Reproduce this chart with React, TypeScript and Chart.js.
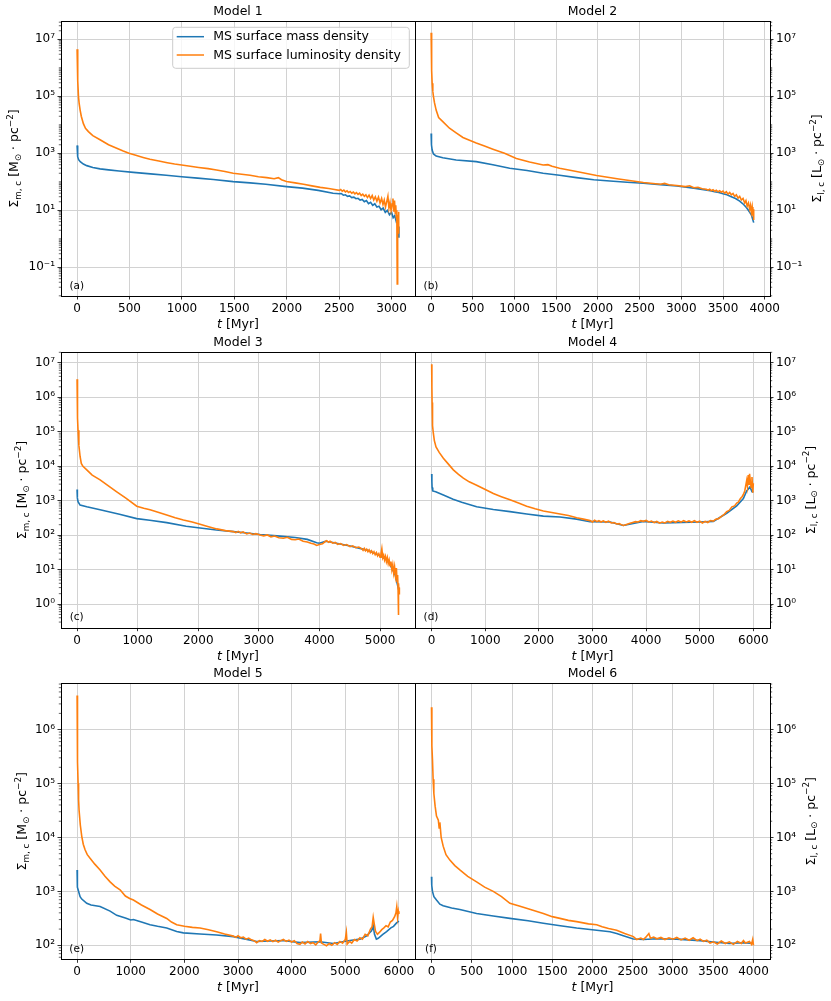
import React, { useEffect, useRef } from "react";
import { Chart, registerables } from "chart.js";

Chart.register(...registerables);

type Pt = [number, number];

const FONT = '"DejaVu Sans", sans-serif';
const BLUE = "#1f77b4";
const ORANGE = "#ff7f0e";

const SERIES_LABELS = ["MS surface mass density", "MS surface luminosity density"];
const MODEL_TITLES = ["Model 1", "Model 2", "Model 3", "Model 4", "Model 5", "Model 6"];
const PANEL_TAGS = ["(a)", "(b)", "(c)", "(d)", "(e)", "(f)"];

// [t in Myr, surface density]
const M1_MASS: Pt[] = [[0,1900],[3,1200],[8,760],[15,600],[30,510],[60,420],[92,370],[150,320],[219,285],[300,263],[400,240],[537,214],[700,190],[850,170],[997,151],[1150,135],[1300,120],[1489,102],[1650,92],[1800,82],[1997,68],[2150,60],[2300,50],[2442,40],[2500,38],[2520,39],[2540,34],[2560,35],[2580,31],[2600,32],[2620,28],[2640,29],[2660,25.5],[2680,26.5],[2700,23],[2720,24],[2740,20],[2760,22],[2780,17],[2800,19],[2820,15],[2840,17],[2860,13],[2880,14],[2900,10.5],[2920,12],[2940,8.5],[2960,10],[2980,7],[3000,8.5],[3015,5.5],[3030,6.5],[3045,4],[3055,4.5],[3062,2.7],[3070,1.1]];
const M1_LUM: Pt[] = [[0,4.5e6],[4,1.2e6],[8,3.5e5],[13,1.0e5],[20,5.5e4],[29,3.3e4],[40,2.0e4],[60,1.1e4],[80,7.5e3],[108,5.8e3],[150,4.2e3],[219,3.0e3],[300,2.0e3],[378,1.5e3],[440,1.2e3],[495,1.0e3],[560,850],[630,720],[695,620],[780,540],[860,470],[930,420],[997,390],[1080,350],[1160,320],[1250,290],[1330,260],[1410,230],[1489,200],[1570,185],[1650,170],[1730,150],[1810,140],[1880,128],[1920,140],[1950,118],[1997,102],[2080,92],[2160,82],[2240,72],[2320,64],[2400,58],[2442,55],[2500,50],[2515,54],[2530,47],[2545,51],[2560,44],[2575,48],[2590,42],[2605,46],[2620,40],[2635,44],[2650,38],[2665,42],[2680,36],[2695,40],[2710,33],[2725,37],[2740,31],[2755,35],[2770,28],[2785,34],[2800,26],[2815,33],[2830,23],[2845,30],[2860,21],[2875,29],[2890,18],[2905,26],[2918,16],[2930,23],[2942,13],[2955,21],[2965,31],[2975,12],[2985,19],[2995,10],[3005,17],[3013,26],[3020,9],[3028,22],[3035,8],[3040,15],[3045,5.5],[3050,10],[3054,0.026],[3058,7],[3062,4.5],[3066,9],[3070,1.5]];

const M2_MASS: Pt[] = [[0,5000],[4,2000],[12,1300],[28,950],[60,800],[140,700],[300,580],[541,510],[740,400],[942,300],[1150,250],[1343,200],[1540,170],[1743,140],[1950,118],[2144,107],[2350,97],[2545,89],[2750,80],[2946,71],[3150,60],[3347,49],[3400,45],[3450,42],[3500,38],[3547,35],[3600,30],[3650,26],[3700,21],[3747,16],[3780,12.5],[3800,10.5],[3820,8.5],[3840,7],[3855,5],[3868,3.7]];
const M2_LUM: Pt[] = [[0,1.7e7],[4,3e6],[8,8e5],[12,2.9e5],[20,1.5e5],[28,9.8e4],[40,6e4],[60,3.3e4],[90,1.8e4],[140,1.3e4],[220,7.6e3],[300,5.2e3],[381,3.6e3],[460,2.9e3],[541,2.3e3],[640,1.8e3],[741,1.4e3],[880,1.0e3],[1022,660],[1180,500],[1343,390],[1400,400],[1450,355],[1540,300],[1743,230],[1984,166],[2250,125],[2545,95],[2750,82],[2800,88],[2850,79],[2946,74],[3050,68],[3100,73],[3150,62],[3200,64],[3250,57],[3300,55],[3320,51],[3340,55],[3360,49],[3380,53],[3400,47],[3420,51],[3440,45],[3460,49],[3480,43],[3500,47],[3520,40],[3540,45],[3560,37],[3580,42],[3600,35],[3620,39],[3640,31],[3660,35],[3680,27],[3700,31],[3720,23],[3740,26],[3760,18],[3775,22],[3790,14],[3805,18],[3820,11],[3830,15],[3840,8.5],[3850,13],[3858,6.5],[3864,11],[3868,4.6]];

const M3_MASS: Pt[] = [[0,2100],[5,1200],[16,930],[50,740],[160,660],[380,540],[700,400],[985,300],[1200,270],[1480,230],[1800,180],[2030,160],[2300,140],[2580,126],[2800,115],[3020,104],[3300,95],[3600,85],[3800,75],[3955,60],[4000,58],[4100,66],[4200,62],[4505,48],[4800,36],[5000,25],[5100,20],[5165,14],[5220,9],[5250,7],[5270,5],[5290,3.5],[5310,2.5],[5319,3]];
const M3_LUM: Pt[] = [[0,3.3e6],[5,8e5],[10,2.5e5],[16,1.1e5],[30,4e4],[50,1.9e4],[70,1.2e4],[94,1.0e4],[160,7.8e3],[250,5.5e3],[380,4.0e3],[500,2.8e3],[655,1.8e3],[800,1.2e3],[985,690],[1100,600],[1205,540],[1350,450],[1480,380],[1620,320],[1755,275],[1900,240],[2030,205],[2170,175],[2305,151],[2450,135],[2580,126],[2620,118],[2660,128],[2700,116],[2740,124],[2800,108],[2850,115],[2900,104],[2950,110],[3020,100],[3080,95],[3140,101],[3200,89],[3260,94],[3330,84],[3405,81],[3470,86],[3540,75],[3600,73],[3660,77],[3730,66],[3800,63],[3860,58],[3910,55],[3955,50],[4000,53],[4050,56],[4090,64],[4120,69],[4150,62],[4175,66],[4220,58],[4260,61],[4300,54],[4350,57],[4400,50],[4450,53],[4505,46],[4550,49],[4600,43],[4650,45],[4700,40],[4720,36],[4740,41],[4760,35],[4780,39],[4800,33],[4820,37],[4840,31],[4860,35],[4880,29],[4900,33],[4920,27],[4940,31],[4960,25],[4980,29],[5000,23],[5015,28],[5030,40],[5045,22],[5060,26],[5075,19],[5090,24],[5105,17],[5120,22],[5135,15],[5150,19],[5165,13],[5180,17],[5195,10],[5210,14],[5225,8],[5240,12],[5255,6.5],[5270,11],[5280,4.5],[5290,7],[5298,2.5],[5302,0.48],[5308,4],[5314,2],[5319,3]];

const M4_MASS: Pt[] = [[0,5900],[4,3500],[8,2400],[20,1900],[75,1800],[218,1450],[400,1100],[560,900],[839,660],[1150,550],[1461,480],[1772,410],[2083,355],[2394,335],[2705,290],[2954,245],[3327,240],[3575,190],[3948,250],[4321,225],[5005,240],[5254,250],[5503,430],[5690,700],[5814,1150],[5876,1900],[5938,2500],[5975,1800],[6000,1800]];
const M4_LUM: Pt[] = [[0,9e6],[4,2e6],[8,7e5],[12,3.4e5],[20,1.5e5],[31,9e4],[50,5.5e4],[81,3.6e4],[140,2.5e4],[218,1.7e4],[300,1.2e4],[404,7.8e3],[500,5.8e3],[591,4.5e3],[700,3.5e3],[839,2.8e3],[1000,2.1e3],[1150,1.6e3],[1300,1.3e3],[1461,1.05e3],[1620,850],[1772,690],[1930,580],[2083,500],[2240,450],[2394,410],[2550,370],[2705,320],[2830,290],[2954,263],[3000,240],[3040,270],[3080,245],[3120,262],[3160,240],[3200,258],[3250,235],[3300,255],[3350,225],[3400,230],[3450,210],[3500,215],[3550,195],[3580,190],[3620,200],[3660,210],[3700,220],[3750,232],[3800,245],[3850,240],[3900,262],[3948,250],[4000,265],[4050,240],[4100,255],[4150,230],[4200,248],[4250,222],[4300,238],[4350,225],[4400,250],[4450,235],[4500,255],[4550,235],[4600,258],[4650,238],[4700,262],[4750,240],[4800,258],[4850,236],[4900,262],[4950,235],[5000,255],[5050,225],[5100,250],[5150,232],[5200,265],[5254,255],[5300,290],[5350,300],[5400,345],[5450,390],[5503,480],[5550,520],[5600,660],[5650,700],[5690,850],[5720,900],[5760,1150],[5790,1300],[5814,1500],[5840,1900],[5860,2800],[5876,3800],[5890,2600],[5905,5500],[5920,3000],[5930,6000],[5945,3500],[5960,2400],[5975,4800],[5990,1700],[6000,3200]];

const M5_MASS: Pt[] = [[0,2500],[3,1600],[8,1200],[19,1070],[56,800],[87,720],[180,600],[260,560],[429,525],[615,430],[739,360],[900,320],[1000,295],[1050,300],[1200,270],[1360,240],[1500,225],[1671,210],[1857,180],[1981,170],[2292,162],[2600,155],[2913,145],[3348,118],[3845,123],[4155,112],[4528,116],[4776,108],[5025,120],[5150,125],[5273,130],[5400,150],[5450,170],[5490,185],[5521,230],[5545,160],[5580,130],[5615,135],[5700,160],[5770,180],[5850,210],[5900,225],[5956,260],[6000,280]];
const M5_LUM: Pt[] = [[0,4.3e6],[3,1.5e6],[8,5e5],[12,2.5e5],[19,1.0e5],[28,5e4],[37,3.2e4],[60,1.7e4],[87,1.05e4],[115,7.5e3],[149,5.9e3],[190,4.8e3],[242,4.1e3],[330,3.2e3],[429,2.5e3],[520,1.9e3],[615,1.5e3],[700,1.25e3],[801,1.07e3],[900,820],[980,740],[1050,690],[1200,560],[1360,460],[1500,380],[1671,315],[1760,270],[1857,240],[2000,225],[2150,215],[2292,209],[2450,195],[2602,178],[2750,162],[2913,148],[2960,140],[3000,150],[3050,138],[3100,142],[3150,130],[3200,136],[3250,126],[3300,122],[3348,112],[3400,122],[3450,118],[3500,128],[3550,119],[3600,126],[3650,117],[3700,124],[3750,115],[3800,122],[3845,128],[3900,118],[3950,125],[4000,115],[4050,122],[4100,108],[4155,104],[4200,115],[4250,106],[4300,118],[4350,108],[4400,112],[4450,102],[4500,116],[4528,122],[4540,165],[4555,110],[4600,104],[4650,98],[4700,108],[4750,100],[4800,112],[4850,104],[4900,118],[4950,110],[5000,128],[5020,175],[5035,105],[5080,118],[5120,110],[5170,128],[5220,120],[5273,138],[5320,130],[5370,160],[5420,150],[5470,200],[5500,220],[5521,330],[5540,250],[5565,180],[5600,160],[5640,175],[5680,195],[5720,210],[5760,230],[5800,220],[5840,270],[5880,290],[5920,340],[5945,400],[5960,520],[5975,330],[5990,430],[6000,380]];

const M6_MASS: Pt[] = [[0,1860],[3,1300],[12,1000],[30,800],[62,690],[104,580],[145,540],[250,490],[352,460],[560,390],[767,350],[974,316],[1200,285],[1389,257],[1600,230],[1803,209],[2052,190],[2218,178],[2300,165],[2383,150],[2508,131],[2632,128],[2800,132],[3047,130],[3337,122],[3502,115],[3700,108],[3875,112],[4000,108]];
const M6_LUM: Pt[] = [[0,2.6e6],[3,1.2e6],[6,5e5],[12,2.8e5],[20,1.2e5],[29,6.6e4],[45,3.8e4],[62,2.5e4],[85,2.1e4],[95,1.5e4],[104,1.9e4],[120,1.0e4],[145,6.9e3],[180,4.8e3],[228,3.8e3],[290,3.0e3],[352,2.5e3],[450,1.9e3],[560,1.5e3],[660,1.2e3],[767,1.0e3],[870,800],[974,600],[1100,530],[1250,450],[1389,390],[1500,340],[1596,316],[1700,290],[1803,275],[1950,250],[2052,240],[2120,220],[2200,205],[2300,190],[2400,165],[2508,145],[2550,128],[2600,136],[2632,128],[2660,140],[2700,165],[2720,135],[2760,142],[2800,132],[2850,140],[2900,128],[2950,138],[3000,130],[3047,140],[3100,126],[3150,136],[3200,124],[3250,138],[3300,122],[3337,130],[3380,118],[3420,124],[3460,110],[3502,116],[3550,106],[3600,120],[3650,108],[3700,116],[3750,104],[3800,118],[3850,108],[3875,122],[3900,110],[3950,118],[3975,104],[3990,128],[4000,100]];

const MASS_SERIES = [M1_MASS, M2_MASS, M3_MASS, M4_MASS, M5_MASS, M6_MASS];
const LUM_SERIES = [M1_LUM, M2_LUM, M3_LUM, M4_LUM, M5_LUM, M6_LUM];

const X_TICKS_M1 = [0, 500, 1000, 1500, 2000, 2500, 3000];
const X_TICKS_M2 = [0, 500, 1000, 1500, 2000, 2500, 3000, 3500, 4000];
const X_TICKS_M3 = [0, 1000, 2000, 3000, 4000, 5000];
const X_TICKS_M4 = [0, 1000, 2000, 3000, 4000, 5000, 6000];
const X_TICKS_M5 = [0, 1000, 2000, 3000, 4000, 5000, 6000];
const X_TICKS_M6 = [0, 500, 1000, 1500, 2000, 2500, 3000, 3500, 4000];
const X_TICKS = [X_TICKS_M1, X_TICKS_M2, X_TICKS_M3, X_TICKS_M4, X_TICKS_M5, X_TICKS_M6];
const X_RANGES: Pt[] = [[-153.5, 3223.5], [-193.5, 4063.5], [-265, 5577], [-311, 6311], [-300, 6300], [-205, 4205]];

const Y_TICKS_ROW1 = [0.1, 10, 1e3, 1e5, 1e7];
const Y_LABELS_ROW1 = ["10⁻¹", "10¹", "10³", "10⁵", "10⁷"];
const Y_TICKS_ROW2 = [1, 10, 100, 1e3, 1e4, 1e5, 1e6, 1e7];
const Y_LABELS_ROW2 = ["10⁰", "10¹", "10²", "10³", "10⁴", "10⁵", "10⁶", "10⁷"];
const Y_TICKS_ROW3 = [100, 1e3, 1e4, 1e5, 1e6];
const Y_LABELS_ROW3 = ["10²", "10³", "10⁴", "10⁵", "10⁶"];
const Y_TICKS = [Y_TICKS_ROW1, Y_TICKS_ROW2, Y_TICKS_ROW3];
const Y_LABELS = [Y_LABELS_ROW1, Y_LABELS_ROW2, Y_LABELS_ROW3];
const Y_RANGES: Pt[] = [[0.00986, 4.4e7], [0.206, 2.0e7], [55, 7.23e6]];

// layout (pixels)
const ROWS = [
  { top: 0, height: 346, plotTop: 21, plotBottom: 296, yTitleLeft: 13.3, yTitleRight: 816.7 },
  { top: 330, height: 346, plotTop: 352.3, plotBottom: 627.7, yTitleLeft: 21.7, yTitleRight: 810 },
  { top: 660, height: 341, plotTop: 683.3, plotBottom: 959.3, yTitleLeft: 21.7, yTitleRight: 810 },
];
const COLS = [
  { left: 0, width: 420, plotLeft: 61, plotRight: 415 },
  { left: 410, width: 421, plotLeft: 415, plotRight: 770 },
];

type Seg = { t: string; k?: "sub" | "sup" | "it" };

function drawRich(ctx: CanvasRenderingContext2D, segs: Seg[], cx: number, cy: number, size: number, rotate: boolean) {
  ctx.save();
  ctx.translate(cx, cy);
  if (rotate) ctx.rotate(-Math.PI / 2);
  const fontOf = (s: Seg) => {
    const sz = s.k === "sub" || s.k === "sup" ? size * 0.7 : size;
    return `${s.k === "it" ? "italic " : ""}${sz}px ${FONT}`;
  };
  const ws = segs.map((s) => {
    ctx.font = fontOf(s);
    return ctx.measureText(s.t).width;
  });
  const total = ws.reduce((a, b) => a + b, 0);
  let x = -total / 2;
  ctx.textAlign = "left";
  ctx.textBaseline = "alphabetic";
  ctx.fillStyle = "#000";
  const base = size * 0.36;
  segs.forEach((s, i) => {
    ctx.font = fontOf(s);
    const dy = s.k === "sub" ? size * 0.22 : s.k === "sup" ? -size * 0.42 : 0;
    ctx.fillText(s.t, x, base + dy);
    x += ws[i];
  });
  ctx.restore();
}

const Y_TITLE_LEFT: Seg[] = [{ t: "Σ" }, { t: "m, c", k: "sub" }, { t: " [M" }, { t: "⊙", k: "sub" }, { t: " · pc" }, { t: "−2", k: "sup" }, { t: "]" }];
const Y_TITLE_RIGHT: Seg[] = [{ t: "Σ" }, { t: "l, c", k: "sub" }, { t: " [L" }, { t: "⊙", k: "sub" }, { t: " · pc" }, { t: "−2", k: "sup" }, { t: "]" }];
const X_TITLE: Seg[] = [{ t: "t", k: "it" }, { t: " [Myr]" }];

function minorTicks(min: number, max: number, majors: number[]) {
  const out: number[] = [];
  for (let e = Math.floor(Math.log10(min)); e <= Math.ceil(Math.log10(max)); e++) {
    for (let k = 1; k <= 9; k++) {
      const v = k * Math.pow(10, e);
      if (v < min || v > max) continue;
      if (k === 1 && majors.some((m) => Math.abs(m - v) / v < 1e-6)) continue;
      out.push(v);
    }
  }
  return out;
}

function Panel({ index }: { index: number }) {
  const ref = useRef<HTMLCanvasElement>(null);
  const r = Math.floor(index / 2);
  const side = index % 2;
  const row = ROWS[r];
  const col = COLS[side];

  useEffect(() => {
    if (!ref.current) return;
    const yMin = Y_RANGES[r][0];
    const yMax = Y_RANGES[r][1];
    const yTicks = Y_TICKS[r];
    const yLabels = Y_LABELS[r];
    const xTicks = X_TICKS[index];
    const minors = minorTicks(yMin, yMax, yTicks);
    const isRight = side === 1;
    const yAxisWidth = isRight ? col.width - (col.plotRight - col.left) : col.plotLeft - col.left;
    const xAxisHeight = row.height - (row.plotBottom - row.top);

    const decor = {
      id: "decor",
      afterDraw(chart: any) {
        const ctx: CanvasRenderingContext2D = chart.ctx;
        const a = chart.chartArea;
        const ys = chart.scales.y;
        ctx.save();
        // minor ticks
        ctx.strokeStyle = "#000";
        ctx.lineWidth = 0.6;
        minors.forEach((v) => {
          const py = ys.getPixelForValue(v);
          const x0 = isRight ? a.right : a.left;
          ctx.beginPath();
          ctx.moveTo(x0, py);
          ctx.lineTo(x0 + (isRight ? 2.2 : -2.2), py);
          ctx.stroke();
        });
        // frame
        ctx.lineWidth = 1;
        ctx.strokeStyle = "#000";
        const L = Math.round(a.left) + 0.5;
        const R = Math.round(a.right) + 0.5;
        const T = Math.round(a.top) + 0.5;
        const B = Math.round(a.bottom) + 0.5;
        ctx.strokeRect(L, T, R - L, B - T);
        // title
        ctx.fillStyle = "#000";
        ctx.font = `12.5px ${FONT}`;
        ctx.textAlign = "center";
        ctx.textBaseline = "middle";
        ctx.fillText(MODEL_TITLES[index], (a.left + a.right) / 2, a.top - 9.5);
        // x title
        drawRich(ctx, X_TITLE, (a.left + a.right) / 2, a.bottom + 27.3, 12.5, false);
        // y title
        const yTitleX = (isRight ? row.yTitleRight : row.yTitleLeft) - col.left;
        drawRich(ctx, isRight ? Y_TITLE_RIGHT : Y_TITLE_LEFT, yTitleX, (a.top + a.bottom) / 2, 12.5, true);
        // panel tag
        ctx.font = `10.5px ${FONT}`;
        ctx.textAlign = "center";
        ctx.textBaseline = "middle";
        ctx.fillStyle = "#000";
        ctx.fillText(PANEL_TAGS[index], a.left + (isRight ? 16 : 15.7), a.bottom - 10);
        // legend
        if (index === 0) {
          const bw = 236.6;
          const bh = 41;
          const bx = a.right - 5.7 - bw;
          const by = a.top + 6.3;
          ctx.beginPath();
          const rad = 3;
          ctx.moveTo(bx + rad, by);
          ctx.arcTo(bx + bw, by, bx + bw, by + bh, rad);
          ctx.arcTo(bx + bw, by + bh, bx, by + bh, rad);
          ctx.arcTo(bx, by + bh, bx, by, rad);
          ctx.arcTo(bx, by, bx + bw, by, rad);
          ctx.closePath();
          ctx.fillStyle = "rgba(255,255,255,0.8)";
          ctx.fill();
          ctx.strokeStyle = "#cccccc";
          ctx.lineWidth = 1;
          ctx.stroke();
          const colors = [BLUE, ORANGE];
          const rowsY = [by + 9.4, by + 27.7];
          ctx.font = `12.5px ${FONT}`;
          ctx.textAlign = "left";
          ctx.textBaseline = "middle";
          SERIES_LABELS.forEach((lab, i) => {
            ctx.strokeStyle = colors[i];
            ctx.lineWidth = 1.5;
            ctx.beginPath();
            ctx.moveTo(bx + 4, rowsY[i]);
            ctx.lineTo(bx + 31.3, rowsY[i]);
            ctx.stroke();
            ctx.fillStyle = "#000";
            ctx.fillText(lab, bx + 40.6, rowsY[i] + 0.5);
          });
        }
        ctx.restore();
      },
    };

    const gridOpts = { color: "#d2d2d2", lineWidth: 1, drawTicks: true, tickLength: 3.5, tickColor: "#000", tickWidth: 0.8 };

    const chart = new Chart(ref.current, {
      type: "line",
      data: {
        datasets: [
          {
            label: SERIES_LABELS[0],
            data: MASS_SERIES[index].map(([x, y]) => ({ x, y })),
            borderColor: BLUE,
            backgroundColor: BLUE,
            borderWidth: 1.6,
            pointRadius: 0,
            tension: 0,
            order: 1,
          },
          {
            label: SERIES_LABELS[1],
            data: LUM_SERIES[index].map(([x, y]) => ({ x, y })),
            borderColor: ORANGE,
            backgroundColor: ORANGE,
            borderWidth: 1.6,
            pointRadius: 0,
            tension: 0,
            order: 0,
          },
        ],
      },
      options: {
        animation: false,
        responsive: false,
        events: [],
        layout: {
          padding: {
            left: isRight ? col.plotLeft - col.left : 0,
            right: isRight ? 0 : col.left + col.width - col.plotRight,
            top: row.plotTop - row.top,
            bottom: 0,
          },
        },
        plugins: { legend: { display: false }, title: { display: false }, tooltip: { enabled: false } },
        scales: {
          x: {
            type: "linear",
            bounds: "data",
            min: X_RANGES[index][0],
            max: X_RANGES[index][1],
            afterBuildTicks: (s: any) => {
              s.ticks = xTicks.map((v) => ({ value: v }));
            },
            afterFit: (s: any) => {
              s.height = xAxisHeight;
            },
            ticks: {
              autoSkip: false,
              maxRotation: 0,
              minRotation: 0,
              includeBounds: false,
              padding: 2,
              color: "#000",
              font: { size: 12, family: FONT },
              callback: (_v: any, i: number) => String(xTicks[i]),
            },
            grid: gridOpts,
            border: { display: false },
          },
          y: {
            type: "logarithmic",
            position: isRight ? "right" : "left",
            bounds: "data",
            min: yMin,
            max: yMax,
            afterBuildTicks: (s: any) => {
              s.ticks = yTicks.map((v) => ({ value: v }));
            },
            afterFit: (s: any) => {
              s.width = yAxisWidth;
            },
            ticks: {
              autoSkip: false,
              padding: 2.5,
              color: "#000",
              font: { size: 12, family: FONT },
              callback: (_v: any, i: number) => yLabels[i],
            },
            grid: gridOpts,
            border: { display: false },
          },
        },
      } as any,
      plugins: [decor],
    });
    return () => chart.destroy();
  }, [index]);

  return (
    <canvas
      ref={ref}
      width={col.width}
      height={row.height}
      style={{ position: "absolute", left: col.left, top: row.top, width: col.width, height: row.height }}
    />
  );
}

export default function App() {
  return (
    <div style={{ position: "absolute", left: 0, top: 0, width: 831, height: 1001, background: "#fff", overflow: "hidden" }}>
      {[0, 1, 2, 3, 4, 5].map((i) => (
        <Panel key={i} index={i} />
      ))}
    </div>
  );
}
